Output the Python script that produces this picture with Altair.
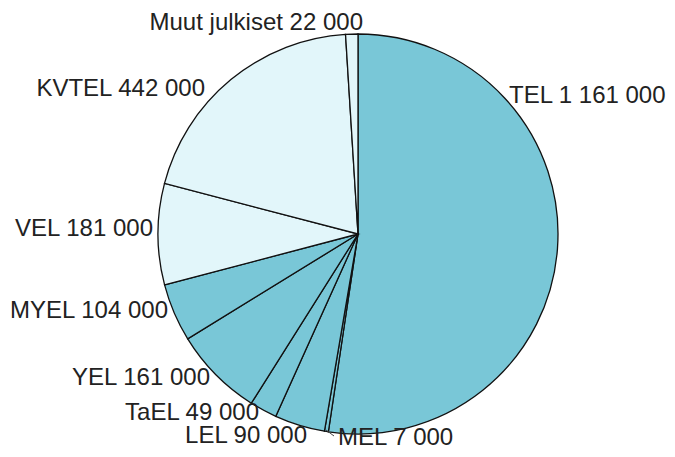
import altair as alt
import pandas as pd

# Data (in persons)
names = ["TEL", "MEL", "LEL", "TaEL", "YEL", "MYEL", "VEL", "KVTEL", "Muut julkiset"]
values = [1161000, 7000, 90000, 49000, 161000, 104000, 181000, 442000, 22000]
labels = ["TEL 1 161 000", "MEL 7 000", "LEL 90 000", "TaEL 49 000", "YEL 161 000",
          "MYEL 104 000", "VEL 181 000", "KVTEL 442 000", "Muut julkiset 22 000"]
sector = ["private"] * 6 + ["public"] * 3

df = pd.DataFrame({"name": names, "value": values, "label": labels,
                   "sector": sector, "order": list(range(len(names)))})

# Label placement (layout, plot-area pixels)
label_pos = {
    "TEL": (501, 88, "left"),
    "MEL": (330, 430, "left"),
    "LEL": (299, 428, "right"),
    "TaEL": (251, 405, "right"),
    "YEL": (202, 370, "right"),
    "MYEL": (160, 303, "right"),
    "VEL": (145, 221, "right"),
    "KVTEL": (197, 81, "right"),
    "Muut julkiset": (355, 15, "right"),
}
df["lx"] = [label_pos[n][0] for n in names]
df["ly"] = [label_pos[n][1] for n in names]
df["align"] = [label_pos[n][2] for n in names]

CX, CY, R = 350, 226, 200

pie = alt.Chart(df).mark_arc(outerRadius=R, stroke="#111111", strokeWidth=1.3).encode(
    theta=alt.Theta("value:Q", stack=True),
    order=alt.Order("order:Q"),
    color=alt.Color("sector:N",
                    scale=alt.Scale(domain=["private", "public"], range=["#79C7D7", "#E2F6FA"]),
                    legend=None),
    x=alt.value(CX),
    y=alt.value(CY),
)

def text_layer(align):
    return alt.Chart(df).transform_filter(alt.datum.align == align).mark_text(
        align=align, baseline="middle", font="Liberation Sans", fontSize=24, color="#222222"
    ).encode(
        x=alt.X("lx:Q", scale=None),
        y=alt.Y("ly:Q", scale=None),
        text="label:N",
    )

leader = alt.Chart(pd.DataFrame({"a": [0]})).mark_rule(color="#444444", strokeWidth=1).encode(
    x=alt.value(318), y=alt.value(422), x2=alt.value(326), y2=alt.value(428)
)

chart = alt.layer(pie, leader, text_layer("left"), text_layer("right")).properties(
    width=659, height=441, autosize=alt.AutoSizeParams(type="none"), padding=0
).configure_view(stroke=None)

chart.save("out.html", embed_options={"renderer": "svg", "actions": False})
